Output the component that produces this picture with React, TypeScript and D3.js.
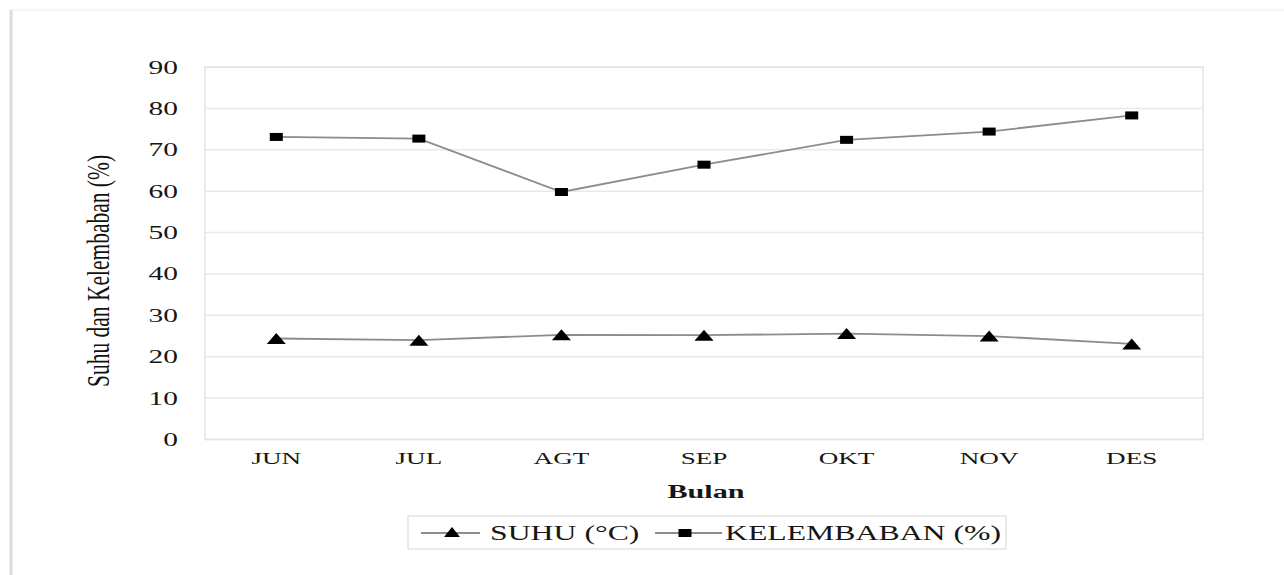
import React from "react";
import * as d3 from "d3";

const months = ["JUN", "JUL", "AGT", "SEP", "OKT", "NOV", "DES"];
const suhu = [24.4, 24.0, 25.3, 25.2, 25.6, 25.0, 23.1];
const kelembaban = [73.1, 72.7, 59.8, 66.4, 72.4, 74.4, 78.3];
const yTicks = [0, 10, 20, 30, 40, 50, 60, 70, 80, 90];
const seriesNames = ["SUHU (°C)", "KELEMBABAN (%)"];
const xTitle = "Bulan";
const yTitle = "Suhu dan Kelembaban (%)";

const W = 1284;
const H = 575;
const plot = { left: 205, right: 1203, top: 67, bottom: 439.5 };
const SX = 1.55;
const FONT = "'Liberation Serif', 'Times New Roman', serif";

function STxt(props: {
  x: number;
  y: number;
  sx?: number;
  anchor?: string;
  size: number;
  weight?: string;
  children: React.ReactNode;
}) {
  const { x, y, sx = SX, anchor = "start", size, weight = "normal", children } = props;
  return (
    <text
      transform={`translate(${x},${y}) scale(${sx},1)`}
      textAnchor={anchor}
      fontFamily={FONT}
      fontSize={size}
      fontWeight={weight}
      fill="#161616"
    >
      {children}
    </text>
  );
}

function Tri({ cx, cy, w = 19, h = 11 }: { cx: number; cy: number; w?: number; h?: number }) {
  const pts = [
    [cx - w / 2, cy + h / 2],
    [cx + w / 2, cy + h / 2],
    [cx, cy - h / 2],
  ]
    .map((p) => p.join(","))
    .join(" ");
  return <polygon points={pts} fill="#000" />;
}

function Sq({ cx, cy, w = 13, h = 8 }: { cx: number; cy: number; w?: number; h?: number }) {
  return <rect x={cx - w / 2} y={cy - h / 2} width={w} height={h} fill="#000" />;
}

export default function App() {
  const x = d3.scalePoint<string>().domain(months).range([plot.left, plot.right]).padding(0.5);
  const y = d3.scaleLinear().domain([0, 90]).range([plot.bottom, plot.top]);

  const line = d3
    .line<number>()
    .x((_, i) => x(months[i]) as number)
    .y((d) => y(d));

  return (
    <svg
      width={W}
      height={H}
      style={{ position: "absolute", left: 0, top: 0, background: "#fff" }}
    >
      {/* outer chart frame */}
      <line x1={11} y1={10} x2={W} y2={10} stroke="#f3f3f3" strokeWidth={1.5} />
      <line x1={11} y1={10} x2={11} y2={H} stroke="#dcdcdc" strokeWidth={3} />

      {/* gridlines */}
      {yTicks.map((t) => (
        <line
          key={t}
          x1={plot.left}
          x2={plot.right}
          y1={y(t)}
          y2={y(t)}
          stroke="#e9e9e9"
          strokeWidth={1.5}
        />
      ))}
      <rect
        x={plot.left}
        y={plot.top}
        width={plot.right - plot.left}
        height={plot.bottom - plot.top}
        fill="none"
        stroke="#e3e3e3"
        strokeWidth={1.5}
      />

      {/* y tick labels */}
      {yTicks.map((t) => (
        <STxt key={t} x={178} y={y(t) + 6.5} anchor="end" size={19}>
          {t}
        </STxt>
      ))}

      {/* x tick labels */}
      {months.map((m) => (
        <STxt key={m} x={x(m) as number} y={464} anchor="middle" size={17.5}>
          {m}
        </STxt>
      ))}

      {/* axis titles */}
      <STxt x={706} y={498} anchor="middle" size={19.5} weight="bold">
        {xTitle}
      </STxt>
      <text
        transform={`translate(109,271) scale(1.5,1) rotate(-90)`}
        textAnchor="middle"
        fontFamily={FONT}
        fontSize={21.5}
        fill="#111"
      >
        {yTitle}
      </text>

      {/* series lines */}
      <path d={line(kelembaban) || ""} fill="none" stroke="#8c8c8c" strokeWidth={1.8} />
      <path d={line(suhu) || ""} fill="none" stroke="#8c8c8c" strokeWidth={1.8} />

      {/* markers */}
      {kelembaban.map((v, i) => (
        <Sq key={"k" + i} cx={x(months[i]) as number} cy={y(v)} />
      ))}
      {suhu.map((v, i) => (
        <Tri key={"s" + i} cx={x(months[i]) as number} cy={y(v)} />
      ))}

      {/* legend */}
      <rect x={408} y={516} width={598} height={33} fill="#fff" stroke="#e3e3e3" strokeWidth={1.5} />
      <line x1={421} x2={480} y1={533} y2={533} stroke="#8c8c8c" strokeWidth={1.8} />
      <Tri cx={452} cy={532} w={16} h={10} />
      <STxt x={490} y={540} size={20.5}>
        {seriesNames[0]}
      </STxt>
      <line x1={655} x2={722} y1={533} y2={533} stroke="#8c8c8c" strokeWidth={1.8} />
      <Sq cx={685} cy={533} w={13} h={8} />
      <STxt x={725} y={540} size={20.5}>
        {seriesNames[1]}
      </STxt>
    </svg>
  );
}
